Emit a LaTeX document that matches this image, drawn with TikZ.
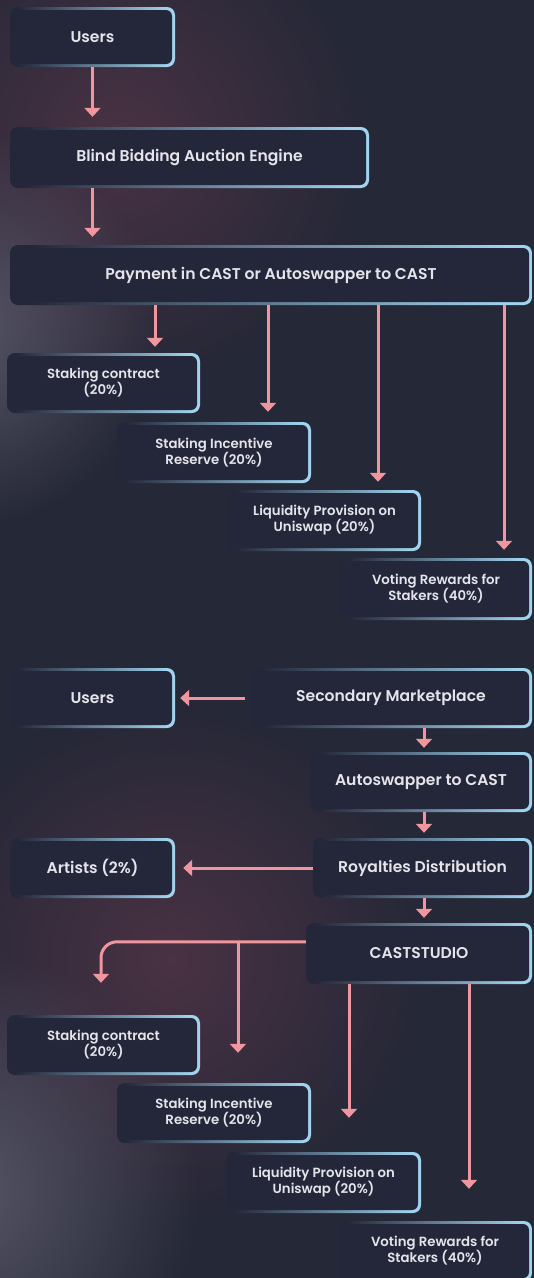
\documentclass[tikz,border=0pt]{standalone}
\usepackage{fontspec}
\setmainfont{Poppins SemiBold}
\usetikzlibrary{arrows.meta,calc,fadings,positioning}

\definecolor{bg}{RGB}{37,40,55}
\definecolor{boxfill}{RGB}{36,39,57}
\definecolor{rim}{RGB}{160,212,238}
\definecolor{flowc}{RGB}{240,150,158}
\definecolor{txt}{RGB}{228,228,235}
\definecolor{glowred}{RGB}{80,52,70}
\definecolor{glowgrey}{RGB}{96,94,112}

\pgfdeclarehorizontalshading{rim}{100bp}{color(0bp)=(boxfill); color(27bp)=(boxfill); color(73bp)=(rim); color(100bp)=(rim)}
\tikzfading[name=glowfade, inner color=transparent!15, outer color=transparent!100]

\tikzset{
  box/.style={shading=rim, rounded corners=8pt, inner sep=0pt, align=center, text=txt,
    font=\fontsize{15.6}{18}\selectfont,
    path picture={\fill[boxfill,rounded corners=6pt] ([yshift=-3pt]path picture bounding box.north west)
      rectangle ([xshift=-3pt,yshift=3pt]path picture bounding box.south east);}},
  small/.style={font=\fontsize{13.3}{16}\selectfont},
  wh/.style 2 args={minimum width=#1pt, minimum height=#2pt},
  flow/.style={draw=flowc, line width=3pt, -{Triangle[width=16pt,length=9pt]}},
}

\begin{document}
\begin{tikzpicture}[x=1pt,y=-1pt]
  \useasboundingbox (0,0) rectangle (534,1278);
  \clip (0,0) rectangle (534,1278);
  \fill[bg] (0,0) rectangle (534,1278);
  \foreach \cx/\cy/\r/\c in {120/140/250/glowred, -40/330/200/glowgrey, 170/960/260/glowred, -40/1190/240/glowgrey}
    \fill[\c, path fading=glowfade] (\cx,\cy) circle (\r pt);

  % primary sale
  \node[box, wh={165}{60}] (users1) at (92.5,37) {Users};
  \node[box, wh={359}{61}] (bid) at (189.5,157.5) {Blind Bidding Auction Engine};
  \node[box, wh={522}{60}] (pay) at (271,275) {Payment in CAST or Autoswapper to CAST};
  \node[box, small, wh={193}{60}] (stake1) at (103.5,383) {Staking contract\\(20\%)};
  \node[box, small, wh={194}{61}] (inc1) at (214,452.5) {Staking Incentive\\Reserve (20\%)};
  \node[box, small, wh={193}{61}] (liq1) at (324.5,520.5) {Liquidity Provision on\\Uniswap (20\%)};
  \node[box, small, wh={192}{62}] (vote1) at (436,589) {Voting Rewards for\\Stakers (40\%)};

  % secondary sale
  \node[box, wh={165}{60}] (users2) at (92.5,698) {Users};
  \node[box, wh={282}{60}] (sec) at (391,698) {Secondary Marketplace};
  \node[box, wh={222}{60}] (auto) at (421,782) {Autoswapper to CAST};
  \node[box, wh={219}{60}] (roy) at (422.5,868) {Royalties Distribution};
  \node[box, wh={165}{60}] (art) at (92.5,868) {Artists (2\%)};
  \node[box, wh={226}{61}] (cst) at (419,953.5) {CASTSTUDIO};
  \node[box, small, wh={193}{60}] (stake2) at (103.5,1045) {Staking contract\\(20\%)};
  \node[box, small, wh={194}{60}] (inc2) at (214,1113) {Staking Incentive\\Reserve (20\%)};
  \node[box, small, wh={195}{61}] (liq2) at (323.5,1182.5) {Liquidity Provision on\\Uniswap (20\%)};
  \node[box, small, wh={194}{60}] (vote2) at (435,1251) {Voting Rewards for\\Stakers (40\%)};

  \foreach \n/\x in {c1/155, c2/268, c3/378, c4/504, c5/424, c6/101, c7/238, c8/349, c9/469}
    \coordinate (\n) at (\x,0);
  \coordinate (split) at ([yshift=-19pt]cst.north west);

  \draw[flow, shorten >=10pt] (users1.south) -- (users1.south |- bid.north);
  \draw[flow, shorten >=8pt] (bid.south -| users1.south) -- (pay.north -| users1.south);
  \draw[flow, shorten >=6pt] (pay.south -| c1) -- (stake1.north -| c1);
  \draw[flow, shorten >=10pt] (pay.south -| c2) -- (inc1.north -| c2);
  \draw[flow, shorten >=8pt] (pay.south -| c3) -- (liq1.north -| c3);
  \draw[flow, shorten >=8pt] (pay.south -| c4) -- (vote1.north -| c4);

  \draw[flow, shorten <=5pt, shorten >=5pt] (sec.west) -- (users2.east);
  \draw[flow, shorten >=4pt] (sec.south -| c5) -- (auto.north -| c5);
  \draw[flow, shorten >=5pt] (auto.south -| c5) -- (roy.north -| c5);
  \draw[flow, shorten >=8pt] (roy.west) -- (art.east);
  \draw[flow, shorten >=5pt] (roy.south -| c5) -- (cst.north -| c5);
  \draw[flow, rounded corners=16pt, shorten >=32pt] (split) -| (stake2.north -| c6);
  \draw[flow, shorten >=30pt] (split -| c7) -- (inc2.north -| c7);
  \draw[flow, shorten >=34pt] (cst.south -| c8) -- (liq2.north -| c8);
  \draw[flow, shorten >=32pt] (cst.south -| c9) -- (vote2.north -| c9);
\end{tikzpicture}
\end{document}
